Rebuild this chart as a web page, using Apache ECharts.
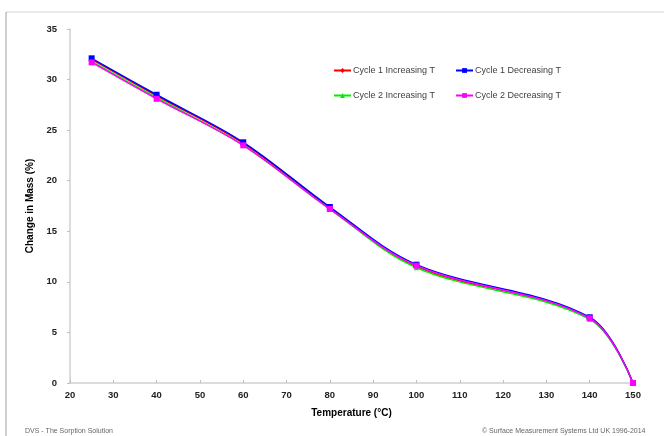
<!DOCTYPE html>
<html>
<head>
<meta charset="utf-8">
<script src="https://cdn.jsdelivr.net/npm/echarts@6/dist/echarts.min.js"></script>
<style>
html,body{margin:0;padding:0;background:#fff;}
#c{width:664px;height:436px;}
</style>
</head>
<body>
<div id="c"></div>
<script>
const temps = [25, 40, 60, 80, 100, 140, 150];
const c1Inc = [32.0, 28.4, 23.7, 17.3, 11.5, 6.4, 0];
const c1Dec = [32.1, 28.5, 23.8, 17.4, 11.7, 6.5, 0];
const c2Inc = [31.8, 28.2, 23.5, 17.2, 11.4, 6.3, 0];
const c2Dec = [31.7, 28.1, 23.5, 17.2, 11.6, 6.4, 0];
const seriesNames = ['Cycle 1 Increasing T', 'Cycle 1 Decreasing T', 'Cycle 2 Increasing T', 'Cycle 2 Decreasing T'];
const xTitle = 'Temperature (°C)';
const yTitle = 'Change in Mass (%)';
const footLeft = 'DVS - The Sorption Solution';
const footRight = '© Surface Measurement Systems Ltd UK 1996-2014';

const pairs = v => temps.map((t, i) => [t, v[i]]);
const chart = echarts.init(document.getElementById('c'));
const fontFam = '"Liberation Sans", Arial, sans-serif';
function mk(name, data, color, symbol, size) {
  return {
    name: name, type: 'line', data: pairs(data), smooth: 0.35,
    symbol: symbol, symbolSize: size, showSymbol: true,
    lineStyle: {color: color, width: 1.5},
    itemStyle: {color: color},
    emphasis: {disabled: true}
  };
}
chart.setOption({
  animation: false,
  backgroundColor: '#fff',
  graphic: [
    {type: 'line', shape: {x1: 6, y1: 12, x2: 664, y2: 12}, style: {stroke: '#d4d4d4', lineWidth: 1}},
    {type: 'line', shape: {x1: 6, y1: 12, x2: 6, y2: 436}, style: {stroke: '#a0a0a0', lineWidth: 1}},
    {type: 'text', left: 25, top: 428, style: {text: footLeft, fontSize: 7, fill: '#666', fontFamily: fontFam}},
    {type: 'text', left: 482, top: 428, style: {text: footRight, fontSize: 7, fill: '#666', fontFamily: fontFam}}
  ],
  legend: [
    {data: [seriesNames[0], seriesNames[1]], left: 328, top: 61, itemWidth: 17, itemHeight: 6, itemGap: 20,
     textStyle: {fontSize: 9, color: '#404040', fontFamily: fontFam, padding: [0,0,0,-3]}, selectedMode: false},
    {data: [seriesNames[2], seriesNames[3]], left: 328, top: 86, itemWidth: 17, itemHeight: 6, itemGap: 20,
     textStyle: {fontSize: 9, color: '#404040', fontFamily: fontFam, padding: [0,0,0,-3]}, selectedMode: false}
  ],
  grid: {left: 70, right: 31, top: 29, bottom: 53, containLabel: false},
  xAxis: {
    type: 'value', min: 20, max: 150, interval: 10,
    name: xTitle, nameLocation: 'middle', nameGap: 25,
    nameTextStyle: {fontSize: 10, fontWeight: 'bold', color: '#000', fontFamily: fontFam},
    axisLine: {lineStyle: {color: '#d0d0d0', width: 1.5}},
    axisTick: {show: true, inside: true, length: 3, lineStyle: {color: '#c0c0c0'}},
    axisLabel: {fontSize: 9.5, fontWeight: 'bold', color: '#222', margin: 7, fontFamily: fontFam},
    splitLine: {show: false}
  },
  yAxis: {
    type: 'value', min: 0, max: 35, interval: 5,
    name: yTitle, nameLocation: 'middle', nameGap: 31, nameRotate: 90,
    nameTextStyle: {fontSize: 10, fontWeight: 'bold', color: '#000', fontFamily: fontFam},
    axisLine: {show: true, lineStyle: {color: '#d0d0d0', width: 1.5}},
    axisTick: {show: true, length: 3, lineStyle: {color: '#c0c0c0'}},
    axisLabel: {fontSize: 9.5, fontWeight: 'bold', color: '#222', margin: 13, fontFamily: fontFam},
    splitLine: {show: false}
  },
  series: [
    mk(seriesNames[0], c1Inc, '#ff0000', 'diamond', 5),
    mk(seriesNames[2], c2Inc, '#00ee00', 'triangle', 5),
    mk(seriesNames[1], c1Dec, '#0000ff', 'rect', 6),
    mk(seriesNames[3], c2Dec, '#ff00ff', 'rect', 6)
  ]
});
</script>
</body>
</html>
